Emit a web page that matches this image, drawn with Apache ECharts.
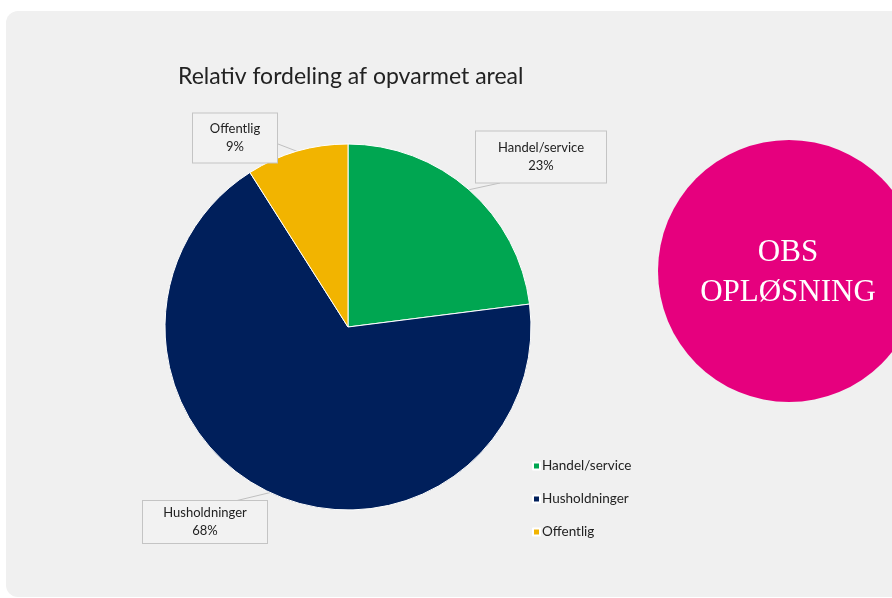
<!DOCTYPE html>
<html>
<head>
<meta charset="utf-8">
<script src="https://cdn.jsdelivr.net/npm/echarts@6/dist/echarts.min.js"></script>
<style>
  html, body { margin: 0; padding: 0; background: #fff; }
  #main { width: 892px; height: 598px; }
</style>
</head>
<body>
<div id="main"></div>
<script>
// data
const categories = ['Handel/service', 'Husholdninger', 'Offentlig'];
const values = [23, 68, 9];
const colors = ['#00a651', '#001f5b', '#f2b400'];

// label boxes: center, content size, and where the leader line meets the box (relative to center)
const labelPos = [
  { x: 541, y: 157, w: 122, h: 43, lx: -41, ly: 26 },
  { x: 205, y: 522, w: 116, h: 34, lx: 30, ly: -21 },
  { x: 235, y: 138, w: 76, h: 41, lx: 43, ly: 6 }
];

const font = 'Lato, "Open Sans", sans-serif';
let myChart = echarts.init(document.getElementById('main'));

let option = {
  backgroundColor: '#ffffff',
  animation: false,
  title: {
    text: 'Relativ fordeling af opvarmet areal',
    left: 173,
    top: 60,
    textStyle: { fontFamily: font, fontSize: 23, fontWeight: 'normal', color: '#222' }
  },
  legend: {
    orient: 'vertical',
    left: 527,
    top: 454,
    itemWidth: 7,
    itemHeight: 7,
    itemGap: 19,
    icon: 'rect',
    textStyle: { fontFamily: font, fontSize: 13.5, color: '#222', padding: [0, 0, 0, -3] },
    data: categories
  },
  graphic: [
    {
      type: 'rect',
      z: -10,
      shape: { x: 6, y: 11, width: 920, height: 586, r: 12 },
      style: { fill: '#f0f0f0' }
    },
    {
      type: 'circle',
      z: 10,
      shape: { cx: 789, cy: 271, r: 131 },
      style: { fill: '#e6007e' }
    },
    {
      type: 'text',
      z: 11,
      x: 788,
      y: 273,
      style: {
        text: 'OBS\nOPLØSNING',
        fill: '#fff',
        font: '31px "Liberation Serif", "DejaVu Serif", serif',
        align: 'center',
        verticalAlign: 'middle',
        lineHeight: 40
      }
    }
  ],
  series: [
    {
      type: 'pie',
      center: [348, 327],
      radius: 183,
      startAngle: 90,
      clockwise: true,
      itemStyle: { borderColor: '#fff', borderWidth: 1 },
      label: {
        show: true,
        formatter: '{b}\n{d}%',
        fontFamily: font,
        fontSize: 13,
        color: '#222',
        lineHeight: 18,
        align: 'center',
        verticalAlign: 'middle',
        backgroundColor: '#f2f2f2',
        borderColor: '#c4c4c4',
        borderWidth: 1,
        padding: [4, 4]
      },
      labelLine: {
        show: true,
        length: 10,
        length2: 10,
        lineStyle: { color: '#c0c0c0', width: 1 }
      },
      labelLayout: function (params) {
        let p = labelPos[params.dataIndex];
        let start = params.labelLinePoints ? params.labelLinePoints[0] : [p.x, p.y];
        let end = [p.x + p.lx, p.y + p.ly];
        return {
          x: p.x, y: p.y, align: 'center', verticalAlign: 'middle',
          labelLinePoints: [start, start, end]
        };
      },
      data: categories.map(function (c, i) {
        return {
          name: c,
          value: values[i],
          itemStyle: { color: colors[i] },
          label: { width: labelPos[i].w, height: labelPos[i].h }
        };
      })
    }
  ]
};

myChart.setOption(option);
</script>
</body>
</html>
